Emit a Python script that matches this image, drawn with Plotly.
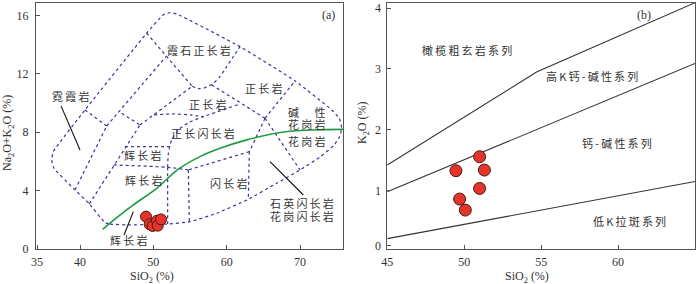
import plotly.graph_objects as go

# ---------------- data: panel (a) TAS plutonic diagram ----------------
tas_sio2 = [49.0, 49.5, 49.9, 50.5, 50.6, 51.05]
tas_alk = [2.22, 1.69, 1.58, 1.94, 1.60, 2.03]

# field boundaries (SiO2, Na2O+K2O)
outer_x = [43.41, 44.09, 46.36, 51.82, 55.0, 58.64, 62.95, 66.8, 70.0, 72.7, 74.6, 75.4, 75.68, 75.36, 74.32,
           69.32, 61.82, 53.18, 52.27, 51.36, 49.09, 40.68, 36.36, 36.14, 36.45, 39.32, 41.27, 43.41]
outer_y = [1.81, 1.71, 1.65, 1.71, 1.87, 2.45, 3.41, 4.5, 5.42, 6.3, 7.1, 7.7, 8.27, 8.96, 9.53,
           11.52, 13.87, 16.11, 16.21, 16.05, 14.79, 9.53, 6.67, 6.10, 5.53, 4.05, 3.09, 1.81]
inner_lines = [
    ([49.09, 55.3], [14.79, 11.15]),                                         # A
    ([55.3, 56.14, 57.05, 58.18, 59.09, 60.0, 60.91, 61.82],
     [11.15, 10.99, 11.06, 11.36, 11.82, 12.5, 13.19, 13.87]),               # B arc
    ([57.95, 65.23], [11.25, 8.96]),                                          # C
    ([65.23, 69.32], [8.96, 11.52]),                                          # D
    ([65.23, 70.0], [8.96, 5.42]),                                            # E
    ([65.23, 63.09], [8.96, 6.67]),                                           # F
    ([63.09, 62.95], [6.67, 3.41]),                                           # G
    ([63.09, 54.77], [6.67, 5.42]),                                           # H
    ([54.77, 54.91], [5.42, 1.87]),                                           # I
    ([54.77, 52.0, 44.55], [5.42, 5.60, 5.76]),                               # J
    ([51.95, 51.95], [5.60, 1.71]),                                           # K
    ([51.95, 52.05, 52.5, 53.41, 54.77, 56.82, 61.82],
     [5.60, 6.56, 7.47, 8.16, 8.66, 9.07, 9.94]),                             # L arc
    ([46.14, 52.18], [7.02, 7.02]),                                           # M
    ([50.09, 52.73, 55.0, 56.82], [9.19, 9.26, 9.19, 9.07]),                  # N
    ([48.18, 55.3], [8.50, 11.15]),                                           # O
    ([45.68, 48.18], [9.30, 8.50]),                                           # P
    ([43.64, 51.73], [8.43, 13.19]),                                          # Q
    ([40.68, 43.64], [9.53, 8.43]),                                           # R
    ([39.32, 43.64], [4.05, 8.43]),                                           # S
    ([41.27, 48.18], [3.09, 8.50]),                                           # T
]
# alkaline / subalkaline divide
alk_x = [43.09, 45.0, 47.27, 50.45, 53.41, 56.36, 59.09, 62.73, 67.27, 71.82, 75.9]
alk_y = [1.35, 2.15, 3.02, 4.16, 5.47, 6.33, 6.90, 7.48, 7.98, 8.16, 8.20]
# leader lines
leaders = [([37.41, 40.0], [9.81, 6.79]),
           ([47.27, 46.0], [2.56, 0.96]),
           ([65.91, 70.45], [5.99, 3.70])]
tas_labels = [
    ("霞石正长岩", 56.27, 13.65), ("霓霞岩", 38.64, 10.49), ("正长岩", 65.0, 11.06),
    ("正长岩", 57.36, 9.92), ("碱　性", 70.86, 9.42), ("花岗岩", 70.82, 8.58),
    ("花岗岩", 70.9, 7.43), ("正长闪长岩", 56.82, 7.98), ("辉长岩", 48.55, 6.45),
    ("辉长岩", 48.64, 4.73), ("闪长岩", 60.23, 4.5), ("石英闪长岩", 70.23, 3.16),
    ("花岗闪长岩", 70.23, 2.24), ("辉长岩", 46.59, 0.62),
]
tas_xticks = [34.14, 40, 50, 60, 70]
tas_xtext = ["35", "40", "50", "60", "70"]
tas_yticks = [0, 4, 8, 12, 16]

# ---------------- data: panel (b) SiO2 - K2O ----------------
k_sio2 = [49.46, 49.70, 50.07, 51.0, 51.0, 51.31]
k_k2o = [1.327, 0.861, 0.680, 1.557, 1.036, 1.338]
k_lines = [([45, 54.7, 65], [1.42, 2.95, 4.09]),
           ([45, 65], [0.98, 3.09]),
           ([45, 65], [0.21, 1.15])]
k_labels = [("橄榄粗玄岩系列", 50.18, 3.31), ("高K钙-碱性系列", 58.33, 2.88),
            ("钙-碱性系列", 59.96, 1.78), ("低K拉斑系列", 60.72, 0.505)]
k_xticks = [45, 50, 55, 60, 65]
k_yticks = [0.09, 1, 2, 3, 4]
k_ytext = ["0", "1", "2", "3", "4"]

PURPLE = "#40309a"
GREEN = "#1e9a40"
CJK = "Noto Sans CJK SC"
SERIF = "Liberation Serif"
TXT = "#333333"
SP = "\u2009"


def spaced(s):
    return SP.join(list(s))


fig = go.Figure()
fig.add_trace(go.Scatter(x=outer_x, y=outer_y, mode="lines",
                         line=dict(color=PURPLE, width=1.2, dash="dot", shape="spline", smoothing=0.4),
                         xaxis="x", yaxis="y", hoverinfo="skip"))
for lx, ly in inner_lines:
    fig.add_trace(go.Scatter(x=lx, y=ly, mode="lines",
                             line=dict(color=PURPLE, width=1.2, dash="dot", shape="spline", smoothing=0.6),
                             xaxis="x", yaxis="y", hoverinfo="skip"))
fig.add_trace(go.Scatter(x=alk_x, y=alk_y, mode="lines", line=dict(color=GREEN, width=1.6, shape="spline"),
                         xaxis="x", yaxis="y"))
for lx, ly in leaders:
    fig.add_trace(go.Scatter(x=lx, y=ly, mode="lines", line=dict(color="#111111", width=1.1),
                             xaxis="x", yaxis="y"))
fig.add_trace(go.Scatter(x=tas_sio2, y=tas_alk, mode="markers",
                         marker=dict(size=11, color="#e5342a", line=dict(color="#4a1a12", width=1)),
                         xaxis="x", yaxis="y"))

for lx, ly in k_lines:
    fig.add_trace(go.Scatter(x=lx, y=ly, mode="lines", line=dict(color="#333333", width=1.1),
                             xaxis="x2", yaxis="y2"))
fig.add_trace(go.Scatter(x=k_sio2, y=k_k2o, mode="markers",
                         marker=dict(size=12, color="#e5342a", line=dict(color="#4a1a12", width=1)),
                         xaxis="x2", yaxis="y2"))

ann = []
for t, x, y in tas_labels:
    ann.append(dict(text=spaced(t), x=x, y=y, xref="x", yref="y", showarrow=False,
                    xanchor="center", yanchor="middle",
                    font=dict(family=CJK, size=11, color=TXT)))
for t, x, y in k_labels:
    ann.append(dict(text=spaced(t), x=x, y=y, xref="x2", yref="y2", showarrow=False,
                    xanchor="center", yanchor="middle",
                    font=dict(family=CJK, size=11, color=TXT)))
ann.append(dict(text="(a)", x=73.86, y=16.05, xref="x", yref="y", showarrow=False,
                xanchor="center", yanchor="middle", font=dict(family=SERIF, size=12, color=TXT)))
ann.append(dict(text="(b)", x=61.66, y=3.88, xref="x2", yref="y2", showarrow=False,
                xanchor="center", yanchor="middle", font=dict(family=SERIF, size=12, color=TXT)))
# axis titles
ann.append(dict(text="SiO<sub>2</sub> (%)", x=152 / 700, y=1 - 277 / 284, xref="paper", yref="paper",
                xanchor="center", yanchor="middle",
                showarrow=False, font=dict(family=SERIF, size=12, color=TXT)))
ann.append(dict(text="SiO<sub>2</sub> (%)", x=527 / 700, y=1 - 277 / 284, xref="paper", yref="paper",
                xanchor="center", yanchor="middle",
                showarrow=False, font=dict(family=SERIF, size=12, color=TXT)))
ann.append(dict(text="Na<sub>2</sub>O+K<sub>2</sub>O (%)", x=8 / 700, y=1 - 133 / 284, xref="paper",
                yref="paper", xanchor="center", yanchor="middle",
                showarrow=False, textangle=-90, font=dict(family=SERIF, size=12, color=TXT)))
ann.append(dict(text="K<sub>2</sub>O (%)", x=363 / 700, y=1 - 123 / 284, xref="paper", yref="paper",
                xanchor="center", yanchor="middle",
                showarrow=False, textangle=-90, font=dict(family=SERIF, size=12, color=TXT)))

axis_common = dict(showgrid=False, zeroline=False, showline=True, linecolor="#555555", linewidth=1,
                   mirror=True, ticks="inside", ticklen=4, tickcolor="#555555", automargin=False,
                   tickfont=dict(family=SERIF, size=12, color=TXT))

ydom = [1 - 249 / 284, 1 - 2.7 / 284]
fig.update_layout(
    width=700, height=284, margin=dict(l=0, r=0, t=0, b=0, autoexpand=False),
    paper_bgcolor="white", plot_bgcolor="white", showlegend=False,
    xaxis=dict(domain=[36 / 700, 343.3 / 700], range=[34.0, 75.9], tickvals=tas_xticks, ticktext=tas_xtext,
               anchor="y", ticklabelstandoff=2, **axis_common),
    yaxis=dict(domain=ydom, range=[0, 16.88], tickvals=tas_yticks, anchor="x", ticklabelstandoff=4,
               **axis_common),
    xaxis2=dict(domain=[387.3 / 700, 695 / 700], range=[45, 65], tickvals=k_xticks, anchor="y2",
                ticklabelstandoff=2, **axis_common),
    yaxis2=dict(domain=ydom, range=[0.04, 4.09], tickvals=k_yticks, ticktext=k_ytext, anchor="x2",
                ticklabelstandoff=3, **axis_common),
    annotations=ann,
)
fig.write_html("out.html", config={"displayModeBar": False},
               post_script="document.body.style.margin='0px';document.body.style.overflow='hidden';")
